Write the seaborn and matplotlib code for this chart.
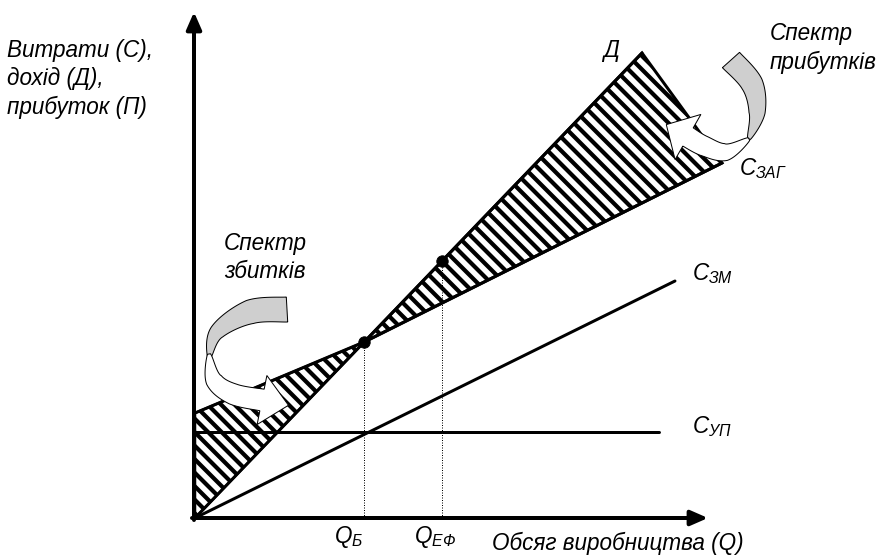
import numpy as np
import pandas as pd
import matplotlib
matplotlib.use("Agg")
import matplotlib.pyplot as plt
from matplotlib.patches import Polygon
from matplotlib.collections import LineCollection
import seaborn as sns

# ---- data (production volume Q vs. money) ----
q_revenue = [0.0, 44.7]
revenue = [0.0, 46.5]

q_total = [0.0, 16.9, 52.7]
total_cost = [10.5, 17.6, 35.5]

q_variable = [0.0, 48.0]
variable_cost = [0.0, 23.7]

q_fixed = [0.0, 46.4]
fixed_cost = [8.6, 8.6]

q_breakeven = 16.9
q_efficient = 24.7

labels = {
    "revenue": "Д",
    "total": r"$C_{ЗАГ}$",
    "variable": r"$C_{ЗМ}$",
    "fixed": r"$C_{УП}$",
}

# ---- style ----
sns.set_style("white")
FONT = "Liberation Sans"
plt.rcParams["font.family"] = [FONT, "DejaVu Sans"]
plt.rcParams["font.style"] = "italic"
plt.rcParams["text.color"] = "black"
plt.rcParams["mathtext.fontset"] = "custom"
plt.rcParams["mathtext.it"] = FONT + ":italic"
plt.rcParams["mathtext.rm"] = FONT

FS = 22.5
DPI = 72
fig = plt.figure(figsize=(894 / DPI, 558 / DPI), dpi=DPI)
ax = fig.add_axes([0, 0, 1, 1])
ax.set_xlim(-19.5, 69.9)
ax.set_ylim(-4.0, 51.8)
ax.set_axis_off()


def striped(poly_pts, lw_edge):
    """Closed polygon with a white fill, black outline and diagonal stripes."""
    patch = Polygon(poly_pts, closed=True, facecolor="white", edgecolor="none", zorder=1)
    ax.add_patch(patch)
    offsets = np.arange(-90.0, 130.0, 1.35)
    xs = np.array([-25.0, 75.0])
    segs = [np.column_stack([xs, c - xs]) for c in offsets]
    lc = LineCollection(segs, colors="black", linewidths=4.2, zorder=1.1)
    ax.add_collection(lc)
    lc.set_clip_path(patch)
    ax.add_patch(Polygon(poly_pts, closed=True, facecolor="none", edgecolor="black",
                         lw=lw_edge, zorder=1.2, joinstyle="miter"))


# ---- profit / loss wedges ----
rev_top = (q_revenue[-1], revenue[-1])
be = (q_breakeven, float(np.interp(q_breakeven, q_revenue, revenue)))
striped([be, rev_top, (q_total[-1], total_cost[-1])], 3)
striped([(0, 0), (0, total_cost[0]), be], 2.5)

# ---- cost and revenue lines ----
frames = []
for name, qs, vs in [("revenue", q_revenue, revenue),
                     ("total", q_total, total_cost),
                     ("variable", q_variable, variable_cost),
                     ("fixed", q_fixed, fixed_cost)]:
    frames.append(pd.DataFrame({"Q": qs, "value": vs, "line": name}))
lines = pd.concat(frames, ignore_index=True)
sns.lineplot(data=lines, x="Q", y="value", hue="line", units="line",
             estimator=None, sort=False, legend=False, ax=ax,
             palette={k: "black" for k in labels}, lw=3, zorder=2)

# ---- break-even and efficient-output points ----
pts_q = [q_breakeven, q_efficient]
pts_v = [float(np.interp(q, q_revenue, revenue)) for q in pts_q]
for q, v in zip(pts_q, pts_v):
    ax.plot([q, q], [0, v], color="black", lw=1, ls=(0, (1, 1.5)), zorder=2)
sns.scatterplot(x=pts_q, y=pts_v, color="black", s=130, ax=ax, zorder=4,
                edgecolor="black", legend=False)


# ---- curved 3-D style arrows ----
def catmull_rom(points, n=40):
    p = np.asarray(points, float)
    p = np.vstack([p[0], p, p[-1]])
    out = []
    for i in range(1, len(p) - 2):
        p0, p1, p2, p3 = p[i - 1], p[i], p[i + 1], p[i + 2]
        for t in np.linspace(0, 1, n, endpoint=False):
            t2, t3 = t * t, t * t * t
            out.append(0.5 * ((2 * p1) + (-p0 + p2) * t +
                              (2 * p0 - 5 * p1 + 4 * p2 - p3) * t2 +
                              (-p0 + 3 * p1 - 3 * p2 + p3) * t3))
    out.append(p[-2])
    return np.array(out)


def ribbon(center, widths, head=None):
    c = np.asarray(center)
    d = np.gradient(c, axis=0)
    d /= np.linalg.norm(d, axis=1)[:, None]
    nrm = np.column_stack([-d[:, 1], d[:, 0]])
    w = np.asarray(widths)[:, None] / 2
    left, right = c + nrm * w, c - nrm * w
    pts = list(left)
    if head is not None:
        hw, hl = head
        pts += [c[-1] + nrm[-1] * hw, c[-1] + d[-1] * hl, c[-1] - nrm[-1] * hw]
    pts += list(right[::-1])
    return np.array(pts)


def curved_arrow(back_pts, back_w, front_pts, front_w, head):
    cb = catmull_rom(back_pts)
    wb = np.interp(np.linspace(0, 1, len(cb)), np.linspace(0, 1, len(back_w)), back_w)
    cf = catmull_rom(front_pts)
    wf = np.interp(np.linspace(0, 1, len(cf)), np.linspace(0, 1, len(front_w)), front_w)
    ax.add_patch(Polygon(ribbon(cb, wb), closed=True, facecolor="#cfcfcf",
                         edgecolor="black", lw=1, zorder=5))
    ax.add_patch(Polygon(ribbon(cf, wf, head), closed=True, facecolor="white",
                         edgecolor="black", lw=1, zorder=6, joinstyle="miter"))


# loss-range arrow (left)
curved_arrow([(9.2, 20.85), (5.5, 20.6), (2.2, 18.6), (1.4, 16.0)],
             [2.5, 2.4, 1.5, 0.3],
             [(1.4, 16.4), (1.9, 13.8), (3.8, 12.4), (6.7, 11.8)],
             [0.3, 1.7, 2.1, 2.2], head=(2.5, 2.7))

# profit-range arrow (right)
curved_arrow([(53.6, 45.8), (55.7, 43.4), (56.2, 40.5), (55.4, 37.9)],
             [2.3, 2.2, 1.6, 0.3],
             [(55.4, 37.9), (53.1, 36.6), (50.9, 37.2), (49.3, 38.1)],
             [0.3, 1.7, 2.0, 2.1], head=(2.6, 2.5))

# ---- axes with arrowheads ----
arrow_kw = dict(arrowstyle="-|>,head_length=0.8,head_width=0.35", color="black",
                lw=4, mutation_scale=18, shrinkA=0, shrinkB=0)
ax.annotate("", xy=(-0.1, 50.6), xytext=(-0.1, -0.2), arrowprops=arrow_kw, zorder=7)
ax.annotate("", xy=(51.3, 0.0), xytext=(-0.3, 0.0), arrowprops=arrow_kw, zorder=7)

# ---- text ----
ax.text(-18.8, 47.9, "Витрати (С),\nдохід (Д),\nприбуток (П)", fontsize=FS,
        va="top", ha="left", linespacing=1.3)
ax.text(57.5, 49.6, "Спектр\nприбутків", fontsize=FS, va="top", ha="left",
        linespacing=1.3)
ax.text(2.9, 28.6, "Спектр\nзбитків", fontsize=FS, va="top", ha="left",
        linespacing=1.3)
ax.text(40.8, 46.1, labels["revenue"], fontsize=FS, va="baseline", ha="left")
ax.text(54.4, 34.3, labels["total"], fontsize=FS, va="baseline", ha="left")
ax.text(49.7, 23.8, labels["variable"], fontsize=FS, va="baseline", ha="left")
ax.text(49.7, 8.5, labels["fixed"], fontsize=FS, va="baseline", ha="left")
ax.text(13.9, -2.5, r"$\mathrm{Q}_{Б}$", fontsize=FS, va="baseline", ha="left")
ax.text(21.9, -2.5, r"$\mathrm{Q}_{ЕФ}$", fontsize=FS, va="baseline", ha="left")
ax.text(29.7, -3.2, "Обсяг виробництва (Q)", fontsize=FS, va="baseline", ha="left")

fig.savefig("out.png", dpi=DPI)
